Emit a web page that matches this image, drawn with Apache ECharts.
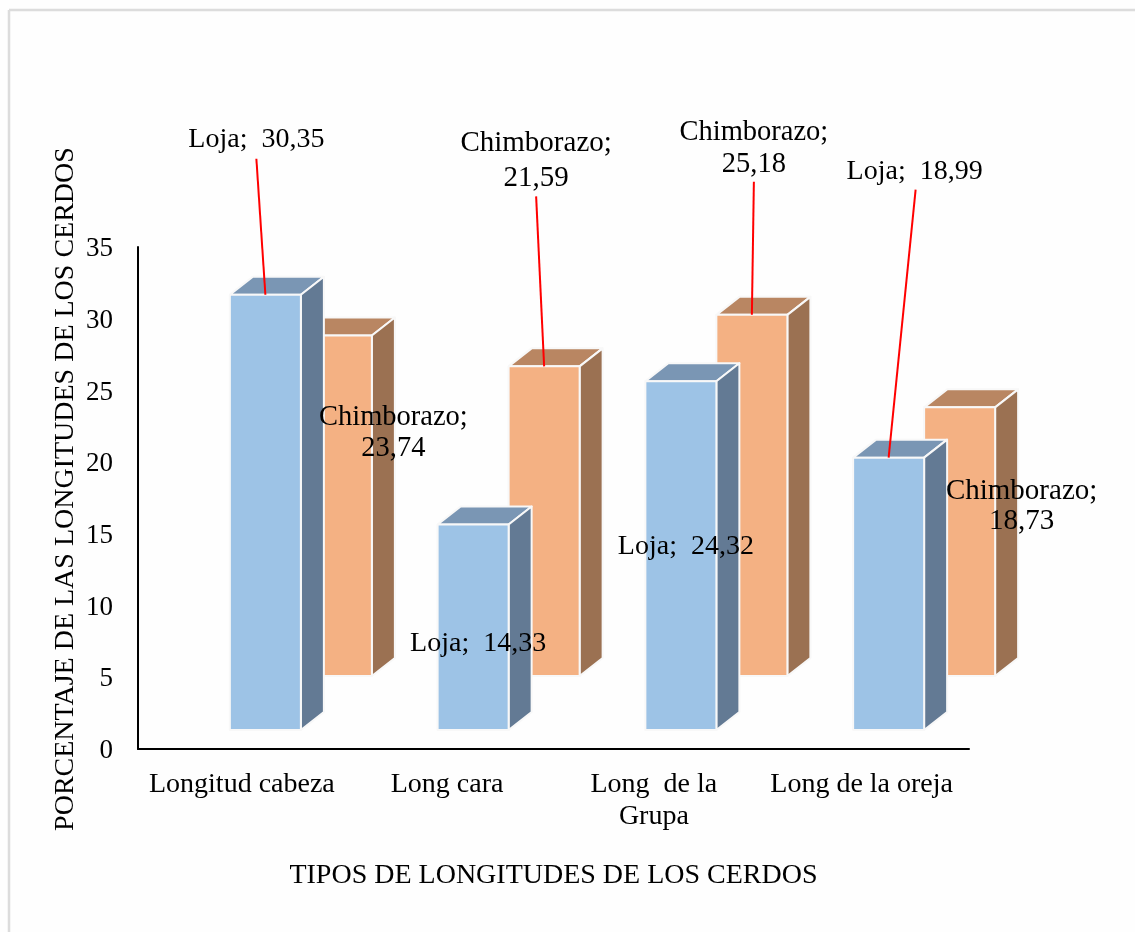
<!DOCTYPE html>
<html>
<head>
<meta charset="utf-8">
<style>
  html, body { margin: 0; padding: 0; background: #fff; }
  #main { width: 1135px; height: 932px; }
</style>
</head>
<body>
<div id="main"></div>
<script src="https://cdn.jsdelivr.net/npm/echarts@6/dist/echarts.min.js"></script>
<script>
const categories = ['Longitud cabeza', 'Long cara', 'Long  de la\nGrupa', 'Long de la oreja'];
const lojaValues = [30.35, 14.33, 24.32, 18.99];
const chimborazoValues = [23.74, 21.59, 25.18, 18.73];
const yTicks = [0, 5, 10, 15, 20, 25, 30, 35];

const FONT = '"Liberation Serif", "Times New Roman", serif';

// offsets of the data labels from the middle of the bar's front top edge
const lojaLabels = [
  { text: [-9, -155], from: [-9, -136], size: 28, lh: 33 },
  { text: [5, 119], size: 28, lh: 33 },
  { text: [5, 165], size: 28, lh: 33 },
  { text: [26, -286], from: [27, -268], size: 28, lh: 33 }
];
const chimborazoLabels = [
  { text: [57, 97.5], size: 28.5, lh: 31 },
  { text: [-8, -205], from: [-8, -170], size: 29, lh: 35 },
  { text: [2, -166], from: [2, -133], size: 28.5, lh: 32 },
  { text: [62, 99.5], size: 29, lh: 30 }
];

function boxSeries(name, values, colors, dx, lift, z) {
  return {
    name: name,
    type: 'custom',
    z: z,
    encode: { x: 0, y: 1 },
    data: values.map((v, i) => [i, v]),
    renderItem: function (params, api) {
      const base = api.coord([api.value(0), 0]);
      const top = api.coord([api.value(0), api.value(1)]);
      const x0 = base[0] + dx, x1 = x0 + 71;
      const y0 = base[1] - lift, y1 = top[1] - lift;
      const d = 23, h = 18;
      const edge = { stroke: '#f8f8f8', lineWidth: 2, lineJoin: 'round' };
      const poly = (points, fill) => ({
        type: 'polygon',
        shape: { points: points },
        style: Object.assign({ fill: fill }, edge)
      });
      return {
        type: 'group',
        children: [
          poly([[x0, y1], [x0 + d, y1 - h], [x1 + d, y1 - h], [x1, y1]], colors[1]),
          poly([[x1, y1], [x1 + d, y1 - h], [x1 + d, y0 - h], [x1, y0]], colors[2]),
          poly([[x0, y1], [x1, y1], [x1, y0], [x0, y0]], colors[0])
        ]
      };
    }
  };
}

function labelSeries(name, values, layout, dx, lift, sep) {
  return {
    name: name + ' labels',
    type: 'custom',
    z: 10,
    silent: true,
    encode: { x: 0, y: 1 },
    data: values.map((v, i) => [i, v]),
    renderItem: function (params, api) {
      const idx = api.value(0);
      const val = api.value(1);
      const top = api.coord([idx, val]);
      const ax = top[0] + dx + 35.5, ay = top[1] - lift;
      const l = layout[idx];
      const children = [];
      if (l.from) {
        children.push({
          type: 'line',
          shape: { x1: ax + l.from[0], y1: ay + l.from[1], x2: ax, y2: ay },
          style: { stroke: '#ff0000', lineWidth: 2 }
        });
      }
      children.push({
        type: 'text',
        x: ax + l.text[0],
        y: ay + l.text[1],
        style: {
          text: name + ';' + sep + val.toFixed(2).replace('.', ','),
          fill: '#000',
          font: l.size + 'px ' + FONT,
          align: 'center',
          verticalAlign: 'middle',
          lineHeight: l.lh
        }
      });
      return { type: 'group', children: children };
    }
  };
}

// the category labels sit a little left of their bars in the original
const catStyle = right => ({
  fontFamily: FONT, fontSize: 28, color: '#000', lineHeight: 32, padding: [0, right, 0, 0]
});

const chart = echarts.init(document.getElementById('main'), null, { renderer: 'canvas' });
chart.setOption({
  backgroundColor: '#fefefe',
  animation: false,
  grid: { left: 138, right: 166, top: 247, bottom: 183 },
  graphic: [
    { type: 'line', shape: { x1: 9, y1: 10, x2: 1135, y2: 10 }, style: { stroke: '#dcdcdc', lineWidth: 2.5 } },
    { type: 'line', shape: { x1: 9, y1: 10, x2: 9, y2: 932 }, style: { stroke: '#dcdcdc', lineWidth: 2.5 } }
  ],
  xAxis: {
    type: 'category',
    data: categories,
    name: 'TIPOS DE LONGITUDES DE LOS CERDOS',
    nameLocation: 'middle',
    nameGap: 113,
    nameMoveOverlap: false,
    nameTextStyle: { fontFamily: FONT, fontSize: 28, color: '#000' },
    axisTick: { show: false },
    axisLine: { lineStyle: { color: '#000', width: 2 } },
    axisLabel: {
      interval: 0,
      margin: 20,
      fontFamily: FONT,
      fontSize: 28,
      color: '#000',
      lineHeight: 32,
      formatter: function (value, index) {
        return value.split('\n').map(s => '{c' + index + '|' + s + '}').join('\n');
      },
      rich: { c0: catStyle(0), c1: catStyle(5), c2: catStyle(7), c3: catStyle(7) }
    }
  },
  yAxis: {
    type: 'value',
    min: yTicks[0],
    max: yTicks[yTicks.length - 1],
    interval: yTicks[1] - yTicks[0],
    name: 'PORCENTAJE DE LAS LONGITUDES DE LOS CERDOS',
    nameLocation: 'middle',
    nameGap: 58,
    nameMoveOverlap: false,
    nameTextStyle: { fontFamily: FONT, fontSize: 28, color: '#000', padding: [0, 0, 0, 18] },
    splitLine: { show: false },
    axisTick: { show: false },
    axisLine: { show: true, lineStyle: { color: '#000', width: 2 } },
    axisLabel: {
      margin: 25,
      formatter: '{t|{value}}',
      rich: { t: { fontFamily: FONT, fontSize: 27, color: '#000', padding: [4, 0, 0, 0] } }
    }
  },
  series: [
    boxSeries('Chimborazo', chimborazoValues, ['#f4b183', '#b98662', '#9b7152'], 59, 73, 2),
    boxSeries('Loja', lojaValues, ['#9dc3e6', '#7a96b4', '#637a94'], -12, 19, 3),
    labelSeries('Chimborazo', chimborazoValues, chimborazoLabels, 59, 73, '\n'),
    labelSeries('Loja', lojaValues, lojaLabels, -12, 19, '  ')
  ]
});
</script>
</body>
</html>
